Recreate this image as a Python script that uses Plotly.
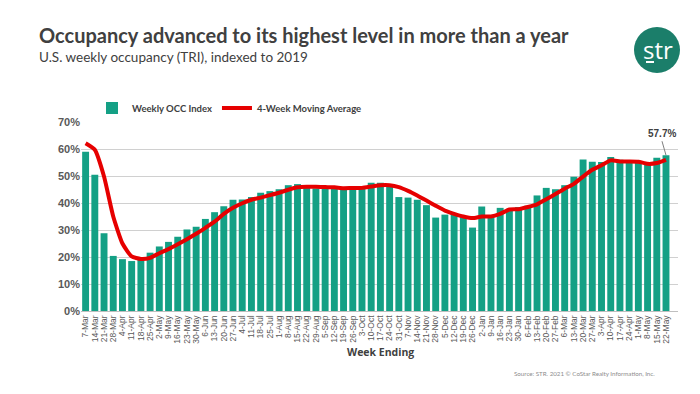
import plotly.graph_objects as go

weeks = ["7-Mar","14-Mar","21-Mar","28-Mar","4-Apr","11-Apr","18-Apr","25-Apr",
         "2-May","9-May","16-May","23-May","30-May","6-Jun","13-Jun","20-Jun","27-Jun",
         "4-Jul","11-Jul","18-Jul","25-Jul","1-Aug","8-Aug","15-Aug","22-Aug","29-Aug",
         "5-Sep","12-Sep","19-Sep","26-Sep","3-Oct","10-Oct","17-Oct","24-Oct","31-Oct",
         "7-Nov","14-Nov","21-Nov","28-Nov","5-Dec","12-Dec","19-Dec","26-Dec",
         "2-Jan","9-Jan","16-Jan","23-Jan","30-Jan","6-Feb","13-Feb","20-Feb","27-Feb",
         "6-Mar","13-Mar","20-Mar","27-Mar","3-Apr","10-Apr","17-Apr","24-Apr",
         "1-May","8-May","15-May","22-May"]

weekly_occ = [59.0,50.5,28.8,20.4,19.2,18.5,19.5,21.6,
              23.9,25.6,27.5,30.2,31.2,34.1,36.6,38.8,41.2,
              41.3,42.2,43.8,44.4,45.1,46.6,47.0,45.9,45.4,
              45.4,45.3,45.0,45.2,45.5,47.5,47.5,46.4,42.2,
              42.0,41.2,39.2,34.6,35.7,36.0,35.0,30.9,
              38.7,35.2,38.2,37.8,38.5,39.0,42.8,45.6,45.1,
              46.6,49.7,56.1,55.3,55.2,57.0,56.0,55.8,
              55.4,54.8,56.8,57.7]

moving_avg = [62.1,59.7,49.8,35.0,25.0,20.2,19.3,19.7,
              21.4,22.9,24.7,26.6,28.6,30.8,33.1,36.0,38.2,
              39.9,41.2,42.0,42.9,43.8,44.9,45.8,46.0,46.0,
              45.9,45.8,45.5,45.6,45.6,46.1,46.6,46.6,45.9,
              44.5,42.8,40.9,39.0,37.2,36.0,35.0,34.4,
              35.0,35.0,36.0,37.6,37.7,38.5,39.5,41.4,43.3,
              45.3,47.1,49.8,52.3,54.0,55.8,55.4,55.4,
              55.3,54.5,54.8,56.0]

y_ticks = [0, 10, 20, 30, 40, 50, 60, 70]
y_tick_labels = ["0%", "10%", "20%", "30%", "40%", "50%", "60%", "70%"]

BAR = "#14A085"
RED = "#E60000"
GRAY = "#404040"
FONT = "Lato"

L, R, T, B = 81, 22, 122, 83
PW, PH = 700 - L - R, 394 - T - B
def px(x): return (x - L) / PW
def py(y): return 1 - (y - T) / PH

fig = go.Figure()
fig.add_trace(go.Bar(x=weeks, y=weekly_occ, name="Weekly OCC Index",
                     marker=dict(color=BAR, line=dict(width=0))))
fig.add_trace(go.Scatter(x=weeks, y=moving_avg, name="4-Week Moving Average",
                         mode="lines", line=dict(color=RED, width=4, shape="spline", smoothing=0.5)))

fig.update_layout(
    width=700, height=394,
    margin=dict(l=L, r=R, t=T, b=B, autoexpand=False),
    plot_bgcolor="white", paper_bgcolor="white",
    bargap=0.25,
    font=dict(family=FONT, color=GRAY),
    showlegend=True,
    legend=dict(orientation="h", x=px(92), y=py(108), yanchor="middle", xanchor="left",
                font=dict(size=9.5, color=GRAY, family=FONT, weight="bold"),
                traceorder="normal", itemwidth=30, bgcolor="rgba(0,0,0,0)",
                tracegroupgap=0),
    xaxis=dict(type="category", tickangle=-90, tickmode="array", tickvals=weeks, ticktext=weeks,
               tickfont=dict(size=8.5, color="#595959", family="Liberation Sans"),
               showgrid=False, showline=True, linecolor="#BFBFBF", ticks=""),
    yaxis=dict(range=[0, 70], tickvals=y_ticks, ticktext=["<b>%s</b>" % t for t in y_tick_labels],
               tickfont=dict(size=11, color="#595959", family="Liberation Sans"),
               showgrid=True, gridcolor="#D0D0D0", gridwidth=1, zeroline=False, showline=False),
)

fig.add_annotation(x=weeks[-1], y=weekly_occ[-1], text="<b>%.1f%%</b>" % weekly_occ[-1],
                   showarrow=True, arrowhead=0, arrowwidth=1, arrowcolor="#7F7F7F",
                   ax=-4, ay=-14, font=dict(size=10, color=GRAY, family="Liberation Sans"),
                   yanchor="bottom")

# Axis title
fig.add_annotation(xref="paper", yref="paper", x=px(380), y=py(352),
                   text="<b>Week Ending</b>", showarrow=False, xanchor="center", yanchor="middle",
                   font=dict(size=10.5, color=GRAY, family="Open Sans"))

# Title and subtitle
fig.add_annotation(xref="paper", yref="paper", x=px(37), y=py(35),
                   text="<b>Occupancy advanced to its highest level in more than a year</b>",
                   showarrow=False, xanchor="left", yanchor="middle",
                   font=dict(size=20, color=GRAY, family=FONT))
fig.add_annotation(xref="paper", yref="paper", x=px(37), y=py(57),
                   text="U.S. weekly occupancy (TRI), indexed to 2019",
                   showarrow=False, xanchor="left", yanchor="middle",
                   font=dict(size=13.5, color=GRAY, family=FONT))

# Source
fig.add_annotation(xref="paper", yref="paper", x=px(657), y=py(373),
                   text="Source: STR. 2021 © CoStar Realty Information, Inc.",
                   showarrow=False, xanchor="right", yanchor="middle",
                   font=dict(size=6.2, color="#8C8C8C", family=FONT))

# Logo
cx, cy, r = 657, 50, 23
fig.add_shape(type="circle", xref="paper", yref="paper",
              x0=px(cx - r), x1=px(cx + r), y0=py(cy + r), y1=py(cy - r),
              fillcolor="#1B7E6A", line=dict(width=0))
fig.add_annotation(xref="paper", yref="paper", x=px(cx + 1), y=py(cy - 1), text="str",
                   showarrow=False, xanchor="center", yanchor="middle",
                   font=dict(size=24, color="white", family="Open Sans"))
fig.add_shape(type="line", xref="paper", yref="paper",
              x0=px(cx - 11), x1=px(cx - 3), y0=py(cy + 12), y1=py(cy + 12),
              line=dict(color="white", width=2))

fig.write_html("out.html", config={"displayModeBar": False},
               post_script="document.body.style.margin='0';document.body.style.overflow='hidden';")
